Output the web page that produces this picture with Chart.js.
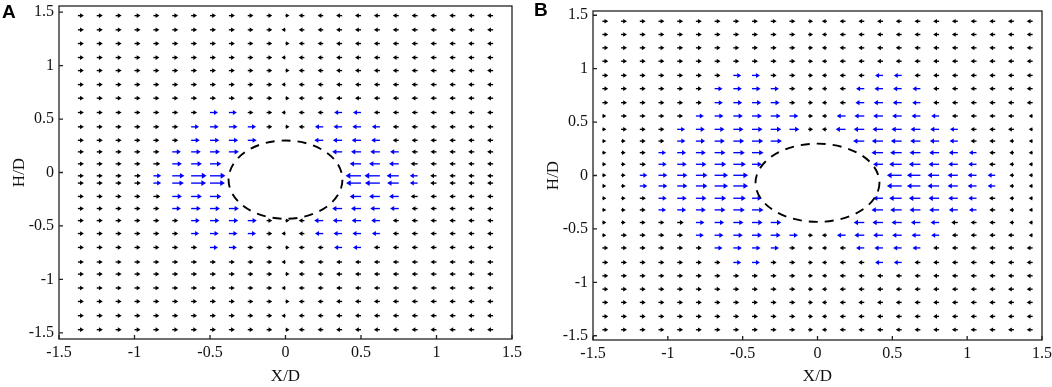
<!DOCTYPE html>
<html>
<head>
<meta charset="utf-8">
<title>Velocity vectors around the cylinder</title>
<script src="https://cdn.jsdelivr.net/npm/chart.js@4.4.1/dist/chart.umd.min.js"></script>
<style>
  html, body { margin: 0; padding: 0; background: #fff; }
  body { position: relative; width: 1052px; height: 387px; overflow: hidden; }
  .panel { position: absolute; top: 0; height: 387px; }
  #panelA { left: 0; width: 525px; }
  #panelB { left: 525px; width: 527px; }
  .tag { position: absolute; font: bold 19px "Liberation Sans", Arial, sans-serif; color: #000; }
</style>
</head>
<body>
<div class="panel" id="panelA"><canvas id="chartA"></canvas></div>
<div class="panel" id="panelB"><canvas id="chartB"></canvas></div>
<div class="tag" style="left:2px;top:1px">A</div>
<div class="tag" style="left:534px;top:-1px">B</div>

<script>
// ── Data ──────────────────────────────────────────────────────────
const tickValues = [-1.5, -1, -0.5, 0, 0.5, 1, 1.5];

// Panel A grid (X/D columns, H/D rows top → bottom)
const colsA = [-1.375, -1.25, -1.125, -1, -0.875, -0.75, -0.625, -0.5, -0.375, -0.25, -0.125, 0,
               0.125, 0.25, 0.375, 0.5, 0.625, 0.75, 0.875, 1, 1.125, 1.25, 1.375];
const rowsA = [1.467, 1.334, 1.206, 1.075, 0.953, 0.822, 0.695, 0.561, 0.427, 0.301, 0.193, 0.081,
               -0.031, -0.099, -0.224, -0.337, -0.450, -0.571, -0.701, -0.837, -0.950, -1.080,
               -1.206, -1.339, -1.470];
// horizontal velocity at each node (null = no vector, inside / on the cylinder)
const uA = [
  [3.6,3.6,3.6,3.6,3.6,3.6,3.6,3.6,3.6,3.4,3.4,2.4,-3.4,-3.4,-3.6,-3.6,-3.6,-3.6,-3.6,-3.6,-3.6,-3.6,-3.6],
  [3.6,3.6,3.6,3.6,3.6,3.6,3.6,3.6,3.6,3.4,3.4,-2.4,-3.4,-3.4,-3.6,-3.6,-3.6,-3.6,-3.6,-3.6,-3.6,-3.6,-3.6],
  [3.6,3.6,3.6,3.6,3.6,3.6,3.6,3.6,3.6,3.4,3.4,2.4,-3.4,-3.4,-3.6,-3.6,-3.6,-3.6,-3.6,-3.6,-3.6,-3.6,-3.6],
  [3.6,3.6,3.6,3.6,3.6,3.6,3.6,3.6,3.6,3.4,3.4,-2.4,-3.4,-3.4,-3.6,-3.6,-3.6,-3.6,-3.6,-3.6,-3.6,-3.6,-3.6],
  [3.6,3.6,3.6,3.6,3.6,3.6,3.6,3.6,3.6,3.4,3.4,2.4,-3.4,-3.4,-3.6,-3.6,-3.6,-3.6,-3.6,-3.6,-3.6,-3.6,-3.6],
  [3.6,3.6,3.6,3.6,3.6,3.6,3.6,3.6,3.6,3.4,3.4,-2.4,-3.4,-3.4,-3.6,-3.6,-3.6,-3.6,-3.6,-3.6,-3.6,-3.6,-3.6],
  [3.6,3.6,3.6,3.6,3.6,3.6,3.6,3.6,3.6,3.4,3.4,2.4,-3.4,-3.4,-3.6,-3.6,-3.6,-3.6,-3.6,-3.6,-3.6,-3.6,-3.6],
  [3.6,3.6,3.6,3.6,3.6,3.6,3.6,4.8,4.8,3.4,3.4,-2.4,-3.4,-3.4,-4.8,-4.8,-3.6,-3.6,-3.6,-3.6,-3.6,-3.6,-3.6],
  [3.6,3.6,3.6,3.6,3.6,3.6,4.8,5.2,5.2,5.0,3.4,2.4,-3.4,-5.0,-5.2,-5.2,-4.8,-3.6,-3.6,-3.6,-3.6,-3.6,-3.6],
  [3.6,3.6,3.6,3.6,3.6,3.6,5.2,5.6,5.6,5.4,null,null,null,-5.4,-5.6,-5.6,-5.2,-3.6,-3.6,-3.6,-3.6,-3.6,-3.6],
  [3.6,3.6,3.6,3.6,3.6,5.2,5.8,6.0,6.0,null,null,null,null,null,-6.0,-6.0,-5.8,-5.2,-3.6,-3.6,-3.6,-3.6,-3.6],
  [3.6,3.6,3.6,3.6,4.2,5.8,6.5,6.8,null,null,null,null,null,null,null,-6.8,-6.5,-5.8,-4.2,-3.6,-3.6,-3.6,-3.6],
  [3.6,3.6,3.6,3.8,4.7,7.3,9.3,9.3,null,null,null,null,null,null,null,-9.3,-9.3,-7.3,-4.7,-3.8,-3.6,-3.6,-3.6],
  [3.6,3.6,3.6,3.8,4.7,7.0,9.0,9.0,null,null,null,null,null,null,null,-9.0,-9.0,-7.0,-4.7,-3.8,-3.6,-3.6,-3.6],
  [3.6,3.6,3.6,3.6,4.2,5.8,6.5,6.8,null,null,null,null,null,null,null,-6.8,-6.5,-5.8,-4.2,-3.6,-3.6,-3.6,-3.6],
  [3.6,3.6,3.6,3.6,3.6,5.2,5.8,6.0,6.0,null,null,null,null,null,-6.0,-6.0,-5.8,-5.2,-3.6,-3.6,-3.6,-3.6,-3.6],
  [3.6,3.6,3.6,3.6,3.6,3.6,5.2,5.6,5.6,5.4,3.4,2.4,-3.4,-5.4,-5.6,-5.6,-5.2,-3.6,-3.6,-3.6,-3.6,-3.6,-3.6],
  [3.6,3.6,3.6,3.6,3.6,3.6,4.8,5.2,5.2,5.0,3.4,-2.4,-3.4,-5.0,-5.2,-5.2,-4.8,-3.6,-3.6,-3.6,-3.6,-3.6,-3.6],
  [3.6,3.6,3.6,3.6,3.6,3.6,3.6,4.8,4.8,3.4,3.4,2.4,-3.4,-3.4,-4.8,-4.8,-3.6,-3.6,-3.6,-3.6,-3.6,-3.6,-3.6],
  [3.6,3.6,3.6,3.6,3.6,3.6,3.6,3.6,3.6,3.4,3.4,-2.4,-3.4,-3.4,-3.6,-3.6,-3.6,-3.6,-3.6,-3.6,-3.6,-3.6,-3.6],
  [3.6,3.6,3.6,3.6,3.6,3.6,3.6,3.6,3.6,3.4,3.4,2.4,-3.4,-3.4,-3.6,-3.6,-3.6,-3.6,-3.6,-3.6,-3.6,-3.6,-3.6],
  [3.6,3.6,3.6,3.6,3.6,3.6,3.6,3.6,3.6,3.4,3.4,-2.4,-3.4,-3.4,-3.6,-3.6,-3.6,-3.6,-3.6,-3.6,-3.6,-3.6,-3.6],
  [3.6,3.6,3.6,3.6,3.6,3.6,3.6,3.6,3.6,3.4,3.4,2.4,-3.4,-3.4,-3.6,-3.6,-3.6,-3.6,-3.6,-3.6,-3.6,-3.6,-3.6],
  [3.6,3.6,3.6,3.6,3.6,3.6,3.6,3.6,3.6,3.4,3.4,-2.4,-3.4,-3.4,-3.6,-3.6,-3.6,-3.6,-3.6,-3.6,-3.6,-3.6,-3.6],
  [3.6,3.6,3.6,3.6,3.6,3.6,3.6,3.6,3.6,3.4,3.4,2.4,-3.4,-3.4,-3.6,-3.6,-3.6,-3.6,-3.6,-3.6,-3.6,-3.6,-3.6],
];

// Panel B grid
const colsB = [-1.4375, -1.3125, -1.1875, -1.0625, -0.9375, -0.8125, -0.6875, -0.5625, -0.4375, -0.3125,
               -0.1875, -0.0625, 0.0625, 0.1875, 0.3125, 0.4375, 0.5625, 0.6875, 0.8125, 0.9375,
               1.0625, 1.1875, 1.3125, 1.4375];
const rowsB = [1.444, 1.320, 1.195, 1.070, 0.937, 0.813, 0.682, 0.557, 0.432, 0.322, 0.214, 0.105,
               0.002, -0.098, -0.213, -0.322, -0.440, -0.559, -0.678, -0.814, -0.939, -1.064,
               -1.188, -1.319, -1.444];
const uB = [
  [3.6,3.6,3.6,3.6,3.6,3.6,3.6,3.6,3.6,3.6,3.6,3.0,-3.0,-3.6,-3.6,-3.6,-3.6,-3.6,-3.6,-3.6,-3.6,-3.6,-3.6,-3.6],
  [3.6,3.6,3.6,3.6,3.6,3.6,3.6,3.6,3.6,3.6,3.6,3.0,-3.0,-3.6,-3.6,-3.6,-3.6,-3.6,-3.6,-3.6,-3.6,-3.6,-3.6,-3.6],
  [3.6,3.6,3.6,3.6,3.6,3.6,3.6,3.6,3.6,3.6,3.6,3.0,-3.0,-3.6,-3.6,-3.6,-3.6,-3.6,-3.6,-3.6,-3.6,-3.6,-3.6,-3.6],
  [3.6,3.6,3.6,3.6,3.6,3.6,3.6,3.6,3.6,3.6,3.6,3.0,-3.0,-3.6,-3.6,-3.6,-3.6,-3.6,-3.6,-3.6,-3.6,-3.6,-3.6,-3.6],
  [3.6,3.6,3.6,3.6,3.6,3.6,3.6,4.8,4.8,3.6,3.6,3.0,-3.0,-3.6,-3.6,-4.8,-4.8,-3.6,-3.6,-3.6,-3.6,-3.6,-3.6,-3.6],
  [3.6,3.6,3.6,3.6,3.6,3.6,4.8,5.2,5.2,5.0,3.6,3.0,-3.0,-3.6,-5.0,-5.2,-5.2,-4.8,-3.6,-3.6,-3.6,-3.6,-3.6,-3.6],
  [3.6,3.6,3.6,3.6,3.6,3.6,5.0,5.4,5.6,5.4,3.6,3.0,-3.0,-3.6,-5.4,-5.6,-5.4,-5.0,-3.6,-3.6,-3.6,-3.6,-3.6,-3.6],
  [2.4,3.6,3.6,3.6,3.6,4.8,5.4,5.8,6.0,6.0,5.4,3.0,-3.0,-5.4,-6.0,-6.0,-5.8,-5.4,-4.8,-3.6,-3.6,-3.6,-3.6,-2.4],
  [2.4,3.6,3.6,3.6,4.8,5.4,6.0,6.2,6.4,6.4,6.0,3.0,-3.0,-6.0,-6.4,-6.4,-6.2,-6.0,-5.4,-4.8,-3.6,-3.6,-3.6,-2.4],
  [2.4,2.8,3.6,3.6,5.0,5.6,6.2,6.6,6.8,6.8,null,null,null,null,-6.8,-6.8,-6.6,-6.2,-5.6,-5.0,-3.6,-3.6,-2.8,-2.4],
  [2.4,2.8,3.6,4.6,5.4,6.0,6.6,7.0,7.0,null,null,null,null,null,null,-7.0,-7.0,-6.6,-6.0,-5.4,-4.6,-3.6,-2.8,-2.4],
  [2.4,2.8,3.8,5.0,5.8,6.4,7.0,7.6,6.0,null,null,null,null,null,null,-6.0,-7.6,-7.0,-6.4,-5.8,-5.0,-3.8,-2.8,-2.4],
  [2.4,2.8,4.6,5.4,6.2,7.0,8.2,9.0,null,null,null,null,null,null,null,null,-9.0,-8.2,-7.0,-6.2,-5.4,-4.6,-2.8,-2.4],
  [2.4,2.8,4.6,5.4,6.2,7.0,8.2,9.0,null,null,null,null,null,null,null,null,-9.0,-8.2,-7.0,-6.2,-5.4,-4.6,-2.8,-2.4],
  [2.4,2.8,3.8,5.0,5.8,6.4,7.0,7.6,6.0,null,null,null,null,null,null,-6.0,-7.6,-7.0,-6.4,-5.8,-5.0,-3.8,-2.8,-2.4],
  [2.4,2.8,3.6,4.6,5.4,6.0,6.6,7.0,7.0,null,null,null,null,null,null,-7.0,-7.0,-6.6,-6.0,-5.4,-4.6,-3.6,-2.8,-2.4],
  [2.4,2.8,3.6,3.6,4.0,5.2,5.8,6.2,6.4,6.4,null,null,null,null,-6.4,-6.4,-6.2,-5.8,-5.2,-4.0,-3.6,-3.6,-2.8,-2.4],
  [2.4,3.6,3.6,3.6,3.6,4.8,5.4,5.8,6.0,6.0,5.2,3.0,-3.0,-5.2,-6.0,-6.0,-5.8,-5.4,-4.8,-3.6,-3.6,-3.6,-3.6,-2.4],
  [3.6,3.6,3.6,3.6,3.6,3.6,4.8,5.2,5.2,5.0,3.6,3.0,-3.0,-3.6,-5.0,-5.2,-5.2,-4.8,-3.6,-3.6,-3.6,-3.6,-3.6,-3.6],
  [3.6,3.6,3.6,3.6,3.6,3.6,3.6,4.8,4.8,3.6,3.6,3.0,-3.0,-3.6,-3.6,-4.8,-4.8,-3.6,-3.6,-3.6,-3.6,-3.6,-3.6,-3.6],
  [3.6,3.6,3.6,3.6,3.6,3.6,3.6,3.6,3.6,3.6,3.6,3.0,-3.0,-3.6,-3.6,-3.6,-3.6,-3.6,-3.6,-3.6,-3.6,-3.6,-3.6,-3.6],
  [3.6,3.6,3.6,3.6,3.6,3.6,3.6,3.6,3.6,3.6,3.6,3.0,-3.0,-3.6,-3.6,-3.6,-3.6,-3.6,-3.6,-3.6,-3.6,-3.6,-3.6,-3.6],
  [3.6,3.6,3.6,3.6,3.6,3.6,3.6,3.6,3.6,3.6,3.6,3.0,-3.0,-3.6,-3.6,-3.6,-3.6,-3.6,-3.6,-3.6,-3.6,-3.6,-3.6,-3.6],
  [3.6,3.6,3.6,3.6,3.6,3.6,3.6,3.6,3.6,3.6,3.6,3.0,-3.0,-3.6,-3.6,-3.6,-3.6,-3.6,-3.6,-3.6,-3.6,-3.6,-3.6,-3.6],
  [3.6,3.6,3.6,3.6,3.6,3.6,3.6,3.6,3.6,3.6,3.6,3.0,-3.0,-3.6,-3.6,-3.6,-3.6,-3.6,-3.6,-3.6,-3.6,-3.6,-3.6,-3.6],
];

// cylinder outline (dashed ellipse), in axis units
const cylinderA = { cx: 0, cy: -0.067, rx: 0.377, ry: 0.366 };
const cylinderB = { cx: 0, cy: -0.068, rx: 0.414, ry: 0.366 };

const BLUE_MIN = 4.4;       // |u| from here on is drawn blue
const ARROW_SCALE = 0.011;  // X/D units per unit of u

const FONT = "'Liberation Serif', 'Times New Roman', serif";

// ── Arrows ────────────────────────────────────────────────────────
function drawArrow(ctx, x0, y0, len) {
  const dir = Math.sign(len), L = Math.abs(len);
  if (L < 0.5) return;
  const head = Math.min(L, 3.2 + 0.1 * L);
  const half = Math.max(1.6, head * 0.62);
  const x1 = x0 + len;
  if (L > head) {
    ctx.beginPath();
    ctx.moveTo(x0, y0);
    ctx.lineTo(x1 - dir * head * 0.5, y0);
    ctx.stroke();
  }
  ctx.beginPath();
  ctx.moveTo(x1, y0);
  ctx.lineTo(x1 - dir * head, y0 - half);
  ctx.lineTo(x1 - dir * head, y0 + half);
  ctx.closePath();
  ctx.fill();
}

// draws each scatter point as an arrow (tail at the node), length from u via the x scale
const quiverPlugin = {
  id: 'quiver',
  afterDatasetsDraw(chart) {
    const { ctx } = chart;
    const xs = chart.scales.x;
    ctx.save();
    ctx.lineWidth = 1.35;
    chart.data.datasets.forEach((ds, di) => {
      ctx.strokeStyle = ds.borderColor;
      ctx.fillStyle = ds.borderColor;
      chart.getDatasetMeta(di).data.forEach((pt, k) => {
        const d = ds.data[k];
        const len = xs.getPixelForValue(d.x + d.u * ARROW_SCALE) - pt.x;
        drawArrow(ctx, pt.x, pt.y, len);
      });
    });
    ctx.restore();
  }
};

// dashed cylinder outline
const cylinderPlugin = {
  id: 'cylinder',
  afterDatasetsDraw(chart, args, opts) {
    const { ctx, scales: { x, y } } = chart;
    const cx = x.getPixelForValue(opts.cx), cy = y.getPixelForValue(opts.cy);
    const rx = x.getPixelForValue(opts.cx + opts.rx) - cx;
    const ry = cy - y.getPixelForValue(opts.cy + opts.ry);
    ctx.save();
    ctx.setLineDash([9, 7]);
    ctx.lineWidth = 1.9;
    ctx.strokeStyle = '#000';
    ctx.beginPath();
    ctx.ellipse(cx, cy, rx, ry, 0, 0, Math.PI * 2);
    ctx.stroke();
    ctx.restore();
  }
};

// box around the plot + inward tick marks on the left / bottom
const framePlugin = {
  id: 'frame',
  afterDraw(chart) {
    const { ctx, chartArea: a, scales: { x, y } } = chart;
    ctx.save();
    ctx.strokeStyle = '#222';
    ctx.lineWidth = 1.3;
    ctx.strokeRect(a.left, a.top, a.right - a.left, a.bottom - a.top);
    ctx.beginPath();
    x.ticks.forEach(t => {
      const px = x.getPixelForValue(t.value);
      ctx.moveTo(px, a.bottom); ctx.lineTo(px, a.bottom - 4);
    });
    y.ticks.forEach(t => {
      const py = y.getPixelForValue(t.value);
      ctx.moveTo(a.left, py); ctx.lineTo(a.left + 4, py);
    });
    ctx.stroke();
    ctx.restore();
  }
};

// ── Chart builder ─────────────────────────────────────────────────
function quiverData(cols, rows, u) {
  const black = [], blue = [];
  rows.forEach((y, i) => cols.forEach((x, j) => {
    const v = u[i][j];
    if (v === null) return;
    (Math.abs(v) >= BLUE_MIN ? blue : black).push({ x, y, u: v });
  }));
  return [
    { label: 'weak', data: black, borderColor: '#000000', pointRadius: 0 },
    { label: 'strong', data: blue, borderColor: '#0000ff', pointRadius: 0 },
  ];
}

function setTicks(scale) {
  scale.ticks = tickValues.map(v => ({ value: v }));
}

function buildChart(canvasId, cols, rows, u, cfg) {
  const ctx = document.getElementById(canvasId);
  return new Chart(ctx, {
    type: 'scatter',
    data: { datasets: quiverData(cols, rows, u) },
    plugins: [quiverPlugin, cylinderPlugin, framePlugin],
    options: {
      responsive: true,
      maintainAspectRatio: false,
      animation: false,
      events: [],
      layout: { padding: cfg.padding },
      plugins: {
        legend: { display: false },
        tooltip: { enabled: false },
        cylinder: cfg.cylinder,
      },
      scales: {
        x: {
          type: 'linear', min: -1.5, max: 1.5,
          afterBuildTicks: setTicks,
          grid: { display: false, drawTicks: false },
          border: { display: false },
          ticks: { autoSkip: false, maxRotation: 0, padding: 4, color: '#111',
                   font: { family: FONT, size: 16 }, callback: v => String(v) },
          title: { display: true, text: 'X/D', color: '#111', padding: { top: 0, bottom: 0 },
                   font: { family: FONT, size: 17 } },
          afterFit: s => { s.height = cfg.xHeight; s.paddingLeft = 0; s.paddingRight = 0; },
        },
        y: {
          type: 'linear', min: cfg.yMin, max: cfg.yMax,
          afterBuildTicks: setTicks,
          grid: { display: false, drawTicks: false },
          border: { display: false },
          ticks: { autoSkip: false, padding: 5, color: '#111',
                   font: { family: FONT, size: 16 }, callback: v => String(v) },
          title: { display: true, text: 'H/D', color: '#111', padding: { top: cfg.yTitlePad, bottom: 0 },
                   font: { family: FONT, size: 17 } },
          afterFit: s => { s.width = cfg.yWidth; s.paddingTop = 0; s.paddingBottom = 0; },
        },
      },
    },
  });
}

buildChart('chartA', colsA, rowsA, uA, {
  yMin: -1.557, yMax: 1.557, yWidth: 59, xHeight: 48, yTitlePad: 9,
  padding: { left: 0, right: 13, top: 6, bottom: 0 },
  cylinder: cylinderA,
});

buildChart('chartB', colsB, rowsB, uB, {
  yMin: -1.54, yMax: 1.54, yWidth: 68, xHeight: 47, yTitlePad: 18,
  padding: { left: 0, right: 10, top: 11, bottom: 0 },
  cylinder: cylinderB,
});
</script>
</body>
</html>
